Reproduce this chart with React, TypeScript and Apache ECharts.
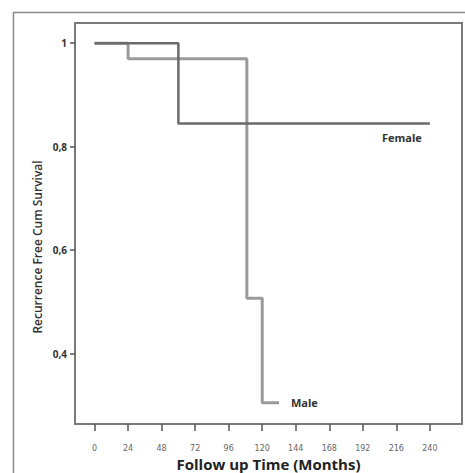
import React, { useEffect, useRef } from "react";
import * as echarts from "echarts";

const xTicks = [0, 24, 48, 72, 96, 120, 144, 168, 192, 216, 240];
const yTicks = [0.4, 0.6, 0.8, 1];
const femaleTimes = [0, 60, 240];
const femaleSurvival = [1, 0.845, 0.845];
const maleTimes = [0, 24, 109, 120, 132];
const maleSurvival = [1, 0.97, 0.507, 0.305, 0.305];

const X_MIN = -14;
const X_MAX = 263;
const Y_MIN = 0.264;
const Y_MAX = 1.039;

export default function App() {
  const ref = useRef<HTMLDivElement>(null);
  useEffect(() => {
    if (!ref.current) return;
    const chart = echarts.init(ref.current, undefined, { renderer: "svg" });
    const female = femaleTimes.map((t, i) => [t, femaleSurvival[i]]);
    const male = maleTimes.map((t, i) => [t, maleSurvival[i]]);
    const frameLine = { show: true, onZero: false, lineStyle: { color: "#7a7a7a", width: 2 } };
    chart.setOption({
      animation: false,
      backgroundColor: "#ffffff",
      grid: { left: 75, top: 23, right: 3, bottom: 49, outerBoundsMode: "none", containLabel: false },
      xAxis: [
        {
          type: "value",
          min: X_MIN,
          max: X_MAX,
          position: "bottom",
          axisLine: frameLine,
          splitLine: { show: false },
          axisTick: {
            show: true,
            length: 7,
            customValues: xTicks,
            lineStyle: { color: "#555", width: 1.5 },
          },
          axisLabel: {
            customValues: xTicks,
            color: "#666",
            fontSize: 8,
            margin: 20,
            fontFamily: "DejaVu Sans",
          },
          name: "Follow up Time (Months)",
          nameLocation: "middle",
          nameGap: 28,
          nameTextStyle: {
            color: "#222",
            fontSize: 15,
            fontWeight: "bold",
            fontFamily: "Open Sans",
          },
        },
        {
          type: "value",
          min: X_MIN,
          max: X_MAX,
          position: "top",
          axisLine: frameLine,
          axisTick: { show: false },
          axisLabel: { show: false },
          splitLine: { show: false },
        },
      ],
      yAxis: [
        {
          type: "value",
          min: Y_MIN,
          max: Y_MAX,
          position: "left",
          axisLine: frameLine,
          splitLine: { show: false },
          axisTick: {
            show: true,
            length: 5,
            customValues: yTicks,
            lineStyle: { color: "#555", width: 1.5 },
          },
          axisLabel: {
            customValues: yTicks,
            formatter: (v: number) => String(v).replace(".", ","),
            color: "#333",
            fontSize: 10,
            fontWeight: "bold",
            margin: 8,
            fontFamily: "Open Sans",
          },
        },
        {
          type: "value",
          min: Y_MIN,
          max: Y_MAX,
          position: "right",
          axisLine: frameLine,
          axisTick: { show: false },
          axisLabel: { show: false },
          splitLine: { show: false },
        },
      ],
      series: [
        {
          type: "line",
          name: "Female",
          step: "end",
          data: female.map((p, i) =>
            i === female.length - 1
              ? {
                  value: p,
                  label: {
                    show: true,
                    formatter: "Female",
                    position: "bottom",
                    offset: [-28, 4],
                    color: "#333",
                    fontSize: 11,
                    fontWeight: "bold",
                    fontFamily: "Open Sans",
                  },
                }
              : p
          ),
          symbol: "circle",
          symbolSize: 0,
          showSymbol: true,
          lineStyle: { color: "#6a6a6a", width: 2.5 },
          z: 3,
        },
        {
          type: "line",
          name: "Male",
          step: "end",
          data: male.map((p, i) =>
            i === male.length - 1
              ? {
                  value: p,
                  label: {
                    show: true,
                    formatter: "Male",
                    position: "right",
                    distance: 12,
                    color: "#333",
                    fontSize: 11,
                    fontWeight: "bold",
                    fontFamily: "Open Sans",
                  },
                }
              : p
          ),
          symbol: "circle",
          symbolSize: 0,
          showSymbol: true,
          lineStyle: { color: "#9a9a9a", width: 3 },
          z: 2,
        },
      ],
      graphic: [
        {
          type: "rect",
          shape: { x: 13.5, y: 12.5, width: 470, height: 480 },
          style: { fill: "none", stroke: "#8a8a8a", lineWidth: 1.5 },
          silent: true,
          z: -1,
        },
        {
          type: "text",
          x: 37,
          y: 247,
          rotation: Math.PI / 2,
          style: {
            text: "Recurrence Free Cum Survival",
            fill: "#333",
            font: "600 12px 'Open Sans'",
            align: "center",
            verticalAlign: "middle",
          },
          silent: true,
        },
      ],
    });
    return () => chart.dispose();
  }, []);
  return <div ref={ref} style={{ width: 465, height: 473, position: "absolute", left: 0, top: 0 }} />;
}
